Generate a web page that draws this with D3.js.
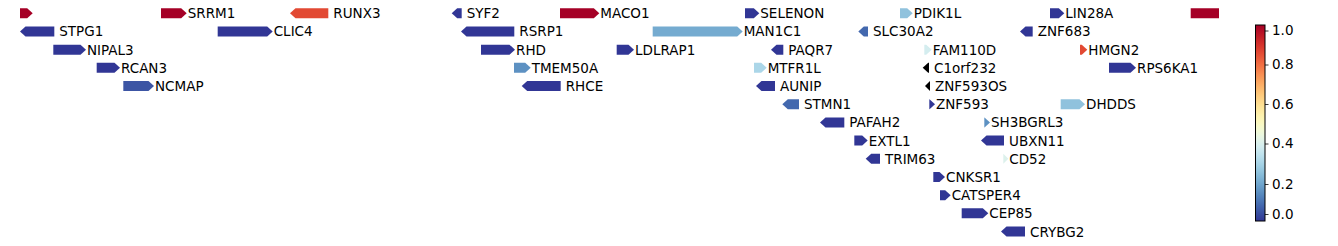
<!DOCTYPE html>
<html>
<head>
<meta charset="utf-8">
<script src="https://cdn.jsdelivr.net/npm/d3@7"></script>
<style>
  body { margin: 0; background: #fff; }
  text { font-family: "DejaVu Sans", sans-serif; font-size: 13.5px; fill: #000; }
</style>
</head>
<body>
<div id="chart"></div>
<script>
// gene track data (positions are offsets along the region)
const geneNames  = ["", "SRRM1", "RUNX3", "SYF2", "MACO1", "SELENON", "PDIK1L", "LIN28A", "",
                    "STPG1", "CLIC4", "RSRP1", "MAN1C1", "SLC30A2", "ZNF683",
                    "NIPAL3", "RHD", "LDLRAP1", "PAQR7", "FAM110D", "HMGN2",
                    "RCAN3", "TMEM50A", "MTFR1L", "C1orf232", "RPS6KA1",
                    "NCMAP", "RHCE", "AUNIP", "ZNF593OS",
                    "STMN1", "ZNF593", "DHDDS",
                    "PAFAH2", "SH3BGRL3",
                    "EXTL1", "UBXN11",
                    "TRIM63", "CD52",
                    "CNKSR1", "CATSPER4", "CEP85", "CRYBG2"];
const geneStart  = [-10, 141, 270, 431.7, 540, 725, 880, 1030, 1170.7,
                    0, 197.7, 441, 632.7, 838.3, 1000,
                    33.3, 461, 596.7, 751, 904.3, 1060,
                    76.7, 494, 734, 902.7, 1089,
                    103.3, 501.7, 736, 905,
                    762.3, 909.3, 1040.7,
                    800, 964.3,
                    834.3, 961,
                    845.7, 983.3,
                    913.3, 920, 941.7, 981];
const geneEnd    = [12.7, 166.7, 308.3, 441.7, 579.3, 739.3, 892.7, 1044.3, 1230,
                    34.3, 252.7, 494.3, 722.7, 848, 1012.7,
                    66, 495, 614, 763.3, 911.7, 1067.3,
                    100, 510.7, 746.7, 909, 1116,
                    134, 540.7, 755, 910,
                    779, 915, 1065,
                    824.3, 970,
                    847.7, 984,
                    860, 988.3,
                    925, 930.7, 968.3, 1005];
const geneStrand = ["+", "+", "-", "-", "+", "+", "+", "+", "+",
                    "-", "+", "-", "+", "-", "-",
                    "+", "+", "+", "-", "+", "+",
                    "+", "+", "+", "-", "+",
                    "+", "-", "-", "-",
                    "-", "+", "+",
                    "-", "+",
                    "+", "-",
                    "-", "+",
                    "+", "+", "+", "-"];
const geneRow    = [0, 0, 0, 0, 0, 0, 0, 0, 0,
                    1, 1, 1, 1, 1, 1,
                    2, 2, 2, 2, 2, 2,
                    3, 3, 3, 3, 3,
                    4, 4, 4, 4,
                    5, 5, 5,
                    6, 6,
                    7, 7,
                    8, 8,
                    9, 10, 11, 12];
const geneScore  = [1.0, 1.0, 0.86, 0.0, 1.0, 0.0, 0.25, 0.0, 1.0,
                    0.0, 0.0, 0.0, 0.2, 0.08, 0.0,
                    0.0, 0.0, 0.0, 0.0, 0.38, 0.86,
                    0.0, 0.15, 0.3, null, 0.0,
                    0.05, 0.0, 0.0, null,
                    0.08, 0.0, 0.25,
                    0.0, 0.15,
                    0.0, 0.0,
                    0.0, 0.4,
                    0.0, 0.0, 0.0, 0.0];
const colorbarTicks = [0.0, 0.2, 0.4, 0.6, 0.8, 1.0];

const genes = geneNames.map((name, i) => ({
    name: name, start: geneStart[i], end: geneEnd[i],
    strand: geneStrand[i], row: geneRow[i], score: geneScore[i]
}));

const width = 1338, height = 246;
const svg = d3.select("#chart").append("svg")
    .attr("width", width)
    .attr("height", height);

const x = d3.scaleLinear().domain([0, 1199]).range([20, 1219]);
const y = d3.scaleLinear().domain([0, 12]).range([13.3, 231.5]);
const color = v => v == null ? "#000" : d3.interpolateRdYlBu(1 - v);

const barH = 10, headLen = 5.5;

svg.append("clipPath").attr("id", "track-clip")
    .append("rect").attr("x", 20).attr("y", 0).attr("width", 1199).attr("height", height);

function arrowPath(d) {
    const x0 = x(d.start), x1 = x(d.end), yc = y(d.row);
    const t = yc - barH / 2, b = yc + barH / 2;
    const hl = Math.min(headLen, x1 - x0);
    if (d.strand === "+") {
        return `M${x0},${t}L${x1 - hl},${t}L${x1},${yc}L${x1 - hl},${b}L${x0},${b}Z`;
    }
    return `M${x1},${t}L${x0 + hl},${t}L${x0},${yc}L${x0 + hl},${b}L${x1},${b}Z`;
}

const track = svg.append("g").attr("clip-path", "url(#track-clip)");

track.selectAll(".gene")
    .data(genes)
    .enter()
    .append("path")
    .attr("class", "gene")
    .attr("d", arrowPath)
    .attr("fill", d => color(d.score));

svg.selectAll(".label")
    .data(genes.filter(d => d.name !== ""))
    .enter()
    .append("text")
    .attr("class", "label")
    .attr("x", d => x(d.end) + (d.strand === "+" ? 1 : 5))
    .attr("y", d => y(d.row))
    .attr("dominant-baseline", "central")
    .text(d => d.name);

// colorbar
const cbX = 1255.5, cbW = 9.5, cbTop = 25, cbBottom = 221;
// tick positions as they sit in the picture
const cbScale = d3.scaleLinear().domain(colorbarTicks).range([214, 184, 143.5, 104, 64.5, 30.5]);

const grad = svg.append("defs").append("linearGradient")
    .attr("id", "cb-grad")
    .attr("x1", 0).attr("y1", 1).attr("x2", 0).attr("y2", 0);
d3.range(0, 1.0001, 0.02).forEach(t => {
    grad.append("stop")
        .attr("offset", t)
        .attr("stop-color", d3.interpolateRdYlBu(1 - t));
});

svg.append("rect")
    .attr("x", cbX).attr("y", cbTop)
    .attr("width", cbW).attr("height", cbBottom - cbTop)
    .attr("fill", "url(#cb-grad)")
    .attr("stroke", "#000").attr("stroke-width", 1);

const cbAxis = svg.append("g")
    .attr("transform", `translate(${cbX + cbW},0)`)
    .call(d3.axisRight(cbScale).tickValues(colorbarTicks).tickFormat(d3.format(".1f")).tickSize(3.5).tickPadding(3.5));
cbAxis.select(".domain").remove();
cbAxis.selectAll("text").style("font-family", "DejaVu Sans, sans-serif").style("font-size", "13.5px");
cbAxis.selectAll("line").attr("stroke", "#000").attr("stroke-width", 0.8);
</script>
</body>
</html>
